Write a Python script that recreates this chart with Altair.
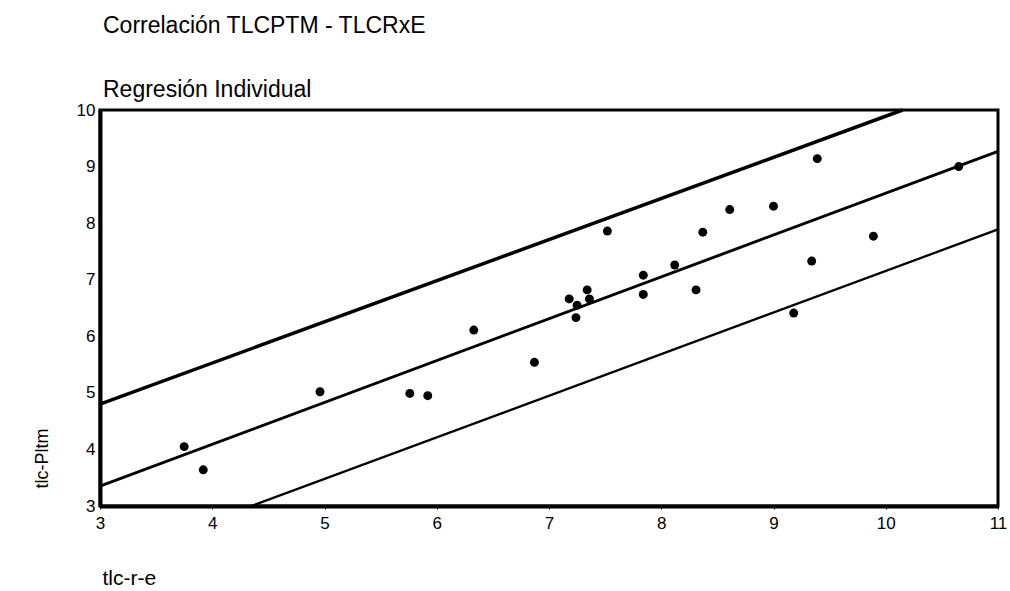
import altair as alt
import pandas as pd

# Observed points (tlc-r-e, tlc-Pltm)
x_vals = [3.75, 3.92, 4.96, 5.76, 5.92, 6.33, 6.87, 7.18, 7.25, 7.34, 7.36, 7.24,
          7.52, 7.84, 7.84, 8.12, 8.31, 8.37, 8.61, 9.00, 9.39, 9.34, 9.18, 9.89, 10.65]
y_vals = [4.05, 3.64, 5.02, 4.99, 4.95, 6.11, 5.54, 6.66, 6.55, 6.82, 6.66, 6.33,
          7.86, 7.08, 6.74, 7.26, 6.82, 7.84, 8.24, 8.30, 9.14, 7.33, 6.41, 7.77, 9.00]

# Regression line and band lines (end points)
line_names = ["upper", "upper", "fit", "fit", "lower", "lower"]
line_x = [3.0, 10.15, 3.0, 11.0, 4.35, 11.0]
line_y = [4.80, 10.0, 3.35, 9.27, 3.0, 7.89]

x_ticks = [3, 4, 5, 6, 7, 8, 9, 10, 11]
y_ticks = [3, 4, 5, 6, 7, 8, 9, 10]

pts = pd.DataFrame({"x": x_vals, "y": y_vals})
lines = pd.DataFrame({"series": line_names, "x": line_x, "y": line_y})

FONT = "Liberation Sans"

xscale = alt.Scale(domain=[3, 11], nice=False, zero=False)
yscale = alt.Scale(domain=[3, 10], nice=False, zero=False)

xaxis = alt.Axis(values=x_ticks, format="d", title="tlc-r-e", grid=False, domainWidth=4,
                 domainColor="black", tickColor="black", tickSize=3, labelPadding=6,
                 labelFontSize=17, labelColor="black", labelFont=FONT,
                 titleFont=FONT, titleFontSize=21, titleFontWeight="normal",
                 titleColor="black", titleX=2, titleY=78, titleAlign="left",
                 titleBaseline="alphabetic", labelFlush=False)
yaxis = alt.Axis(values=y_ticks, format="d", title="tlc-Pltm", grid=False, domainWidth=4,
                 domainColor="black", tickColor="black", tickSize=2, labelPadding=3,
                 labelFontSize=17, labelColor="black", labelFont=FONT,
                 titleFont=FONT, titleFontSize=18, titleFontWeight="normal",
                 titleColor="black", titleX=-58, titleY=348, titleAngle=270,
                 titleAlign="center", titleBaseline="middle", labelFlush=False)

line_layer = alt.Chart(lines).mark_line(color="black").encode(
    x=alt.X("x:Q", scale=xscale, axis=xaxis),
    y=alt.Y("y:Q", scale=yscale, axis=yaxis),
    detail="series:N",
    strokeWidth=alt.StrokeWidth("series:N",
                                scale=alt.Scale(domain=["upper", "fit", "lower"],
                                                range=[3.5, 2.3, 2.3]),
                                legend=None),
)

point_layer = alt.Chart(pts).mark_circle(color="black", opacity=1, size=80).encode(
    x=alt.X("x:Q", scale=xscale),
    y=alt.Y("y:Q", scale=yscale),
)

chart = alt.layer(line_layer, point_layer).properties(
    width=898,
    height=396,
    autosize=alt.AutoSizeParams(type="none"),
    padding={"left": 100, "top": 110, "right": 12, "bottom": 85},
    title=alt.TitleParams(
        text=["Correlación TLCPTM - TLCRxE", "Regresión Individual"],
        anchor="start", font=FONT, fontSize=23, fontWeight="normal",
        color="black", lineHeight=64, offset=-1, dx=3, frame="group",
    ),
    background="white",
).configure_view(stroke="black", strokeWidth=3)

chart.save("out.html", embed_options={"renderer": "svg", "actions": False})
